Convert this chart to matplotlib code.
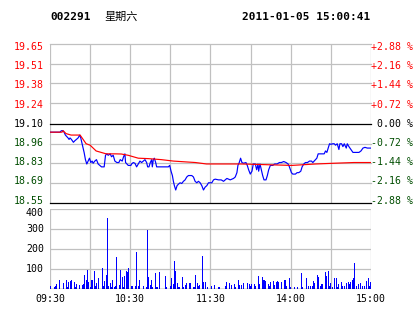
import numpy as np
import matplotlib
matplotlib.use('Agg')
import matplotlib.pyplot as plt

# header
code = '002291'
weekday = '星期六'
stamp = '2011-01-05 15:00:41'

prev_close = 19.10
price_ticks = [19.65, 19.51, 19.38, 19.24, 19.10, 18.96, 18.83, 18.69, 18.55]
pct_ticks = ['+2.88', '+2.16', '+1.44', '+0.72', '0.00', '-0.72', '-1.44', '-2.16', '-2.88']
time_labels = ['09:30', '10:30', '11:30', '14:00', '15:00']
vol_ticks = [100, 200, 300, 400]

# minutes since 09:30 (trading clock, 240 min total)
price_t = [0, 7.5, 8.5, 9.75, 10.5, 11.5, 12.5, 13.5, 14.25, 15, 16, 16.75, 17.5, 18.5, 19.75,
           21, 22.25, 23, 23.5, 24.5, 25.5, 26.5, 27.5, 28.5, 29.5, 30.5, 31.5, 32.25, 33.5,
           34.75, 36, 37.25, 38.5, 40.5, 41.5, 42.5, 43.5, 45, 46, 47.25, 48.5, 50, 51.5, 52.5,
           54, 55, 56, 56.5, 58.5, 60.5, 61, 62.25, 63.5, 64.75, 66, 67.25, 68.5, 69.75, 71,
           72.25, 73, 74, 75, 76, 76.5, 77.25, 78, 79, 79.75, 83.5, 88.5, 89.5, 90.5, 91.5,
           92.25, 93, 94, 95, 96, 97.25, 98.5, 99.75, 101, 102.25, 103.5, 104.75, 106, 107.25,
           108.5, 109.75, 111, 112.25, 113.5, 114.75, 116, 117.25, 118.5, 121, 122.25, 123.5,
           126, 128, 129.75, 131, 132.25, 134.75, 137.25, 138.5, 139.75, 140.5, 141.5, 142.5,
           143.5, 144.75, 146.5, 147.5, 148.5, 149.75, 151, 152, 153.5, 154.5, 155.5, 156, 157,
           158, 159, 160, 161.5, 162.5, 163.5, 164.75, 166.5, 168, 169.75, 171.5, 173, 174.75,
           176.5, 178, 179, 179.75, 180.5, 181.5, 183.5, 184.75, 186, 187.5, 188.5, 189.75, 191,
           192.5, 194, 195.5, 196.5, 197.5, 198.5, 199.5, 200.5, 202, 203.5, 205, 206, 207, 208,
           209, 210, 211.5, 212.5, 213.5, 214.75, 216, 216.75, 218, 219, 220, 221.5, 222.25,
           223.5, 225, 226.5, 228.5, 231, 232.5, 234, 235.5, 237.25, 240]
price_v = [19.04, 19.04, 19.05, 19.05, 19.04, 19.02, 19.01, 19.00, 18.99, 19.00, 18.99, 18.98,
           18.97, 18.98, 18.99, 19.00, 19.02, 19.00, 18.98, 18.94, 18.90, 18.85, 18.82, 18.84,
           18.86, 18.83, 18.84, 18.825, 18.84, 18.85, 18.82, 18.81, 18.80, 18.80, 18.88, 18.89,
           18.88, 18.89, 18.87, 18.88, 18.84, 18.83, 18.83, 18.85, 18.84, 18.87, 18.89, 18.83,
           18.81, 18.81, 18.82, 18.83, 18.825, 18.80, 18.82, 18.84, 18.83, 18.84, 18.85, 18.83,
           18.80, 18.80, 18.83, 18.85, 18.80, 18.85, 18.86, 18.83, 18.80, 18.80, 18.80, 18.81,
           18.77, 18.74, 18.70, 18.67, 18.64, 18.67, 18.68, 18.69, 18.685, 18.70, 18.71, 18.73,
           18.74, 18.74, 18.74, 18.73, 18.70, 18.69, 18.70, 18.69, 18.67, 18.64, 18.66, 18.67,
           18.69, 18.69, 18.71, 18.715, 18.71, 18.71, 18.70, 18.71, 18.72, 18.71, 18.72, 18.73,
           18.76, 18.81, 18.83, 18.86, 18.83, 18.825, 18.83, 18.81, 18.78, 18.75, 18.77, 18.82,
           18.82, 18.78, 18.82, 18.77, 18.82, 18.78, 18.74, 18.71, 18.71, 18.74, 18.78, 18.81,
           18.81, 18.82, 18.82, 18.83, 18.83, 18.837, 18.83, 18.82, 18.80, 18.78, 18.76, 18.75,
           18.75, 18.76, 18.76, 18.77, 18.80, 18.82, 18.83, 18.83, 18.84, 18.84, 18.83, 18.84,
           18.85, 18.86, 18.89, 18.89, 18.89, 18.89, 18.91, 18.90, 18.93, 18.96, 18.956, 18.96,
           18.96, 18.95, 18.96, 18.92, 18.96, 18.96, 18.94, 18.96, 18.93, 18.96, 18.94, 18.92,
           18.90, 18.90, 18.90, 18.91, 18.93, 18.935, 18.93, 18.93]

avg_t = [0, 9, 9.75, 12, 15.75, 22.5, 24.75, 27, 30, 32.25, 34.5, 38.25, 42, 48.75, 53.25,
         58.5, 66, 73.5, 83.25, 92.25, 108.75, 117, 143.25, 158.25, 180.75, 198.75, 212.25,
         227.25, 240]
avg_v = [19.04, 19.04, 19.05, 19.03, 19.02, 19.02, 18.99, 18.96, 18.95, 18.93, 18.91, 18.90,
         18.89, 18.89, 18.889, 18.88, 18.86, 18.857, 18.85, 18.84, 18.83, 18.82, 18.82, 18.816,
         18.81, 18.82, 18.825, 18.83, 18.83]

vol_t = [0, 3, 4, 5, 7, 10, 12, 13, 14, 15, 16, 18, 19, 20, 22, 24, 25, 26, 27, 28, 29, 30,
         31, 32, 33, 34, 35, 36, 39, 40, 41, 42, 43, 44, 45, 46, 47, 48, 49, 50, 52, 53, 54,
         55, 56, 57, 58, 59, 61, 62, 64, 65, 66, 67, 70, 72, 73, 74, 75, 76, 77, 79, 80, 82,
         86, 87, 90, 91, 92, 93, 94, 95, 96, 97, 99, 100, 101, 102, 104, 105, 107, 108, 109,
         110, 111, 112, 114, 115, 116, 118, 121, 123, 126, 127, 131, 132, 134, 136, 138, 139,
         141, 142, 143, 145, 148, 149, 150, 151, 153, 154, 156, 157, 159, 160, 161, 163, 164,
         165, 167, 168, 169, 170, 171, 173, 175, 176, 177, 179, 180, 183, 185, 188, 189, 192,
         193, 195, 196, 197, 198, 200, 201, 202, 203, 204, 206, 207, 208, 209, 210, 211, 213,
         214, 215, 216, 218, 219, 220, 222, 223, 224, 225, 226, 227, 228, 229, 231, 232, 234,
         235, 237, 238, 239, 240]
vol_v = [17, 12, 17, 25, 47, 30, 47, 12, 33, 42, 47, 37, 12, 25, 20, 22, 25, 72, 47, 97, 37, 10,
         47, 43, 92, 17, 30, 57, 107, 17, 38, 72, 353, 13, 30, 12, 47, 12, 17, 158, 22, 97, 62,
         12, 67, 92, 87, 103, 17, 17, 13, 187, 17, 47, 17, 12, 297, 62, 22, 47, 12, 80, 12, 87,
         67, 12, 17, 53, 25, 142, 92, 30, 12, 12, 62, 12, 22, 30, 30, 30, 12, 12, 72, 30, 17,
         22, 167, 33, 35, 12, 17, 20, 12, 12, 17, 37, 28, 20, 25, 12, 47, 20, 20, 28, 28, 25,
         17, 25, 25, 17, 67, 25, 62, 45, 42, 25, 17, 33, 42, 20, 33, 42, 33, 37, 45, 45, 17, 55,
         12, 12, 12, 78, 12, 55, 17, 17, 17, 42, 28, 72, 62, 17, 25, 25, 83, 67, 88, 17, 28, 12,
         55, 55, 12, 25, 37, 17, 17, 28, 37, 25, 37, 45, 55, 128, 17, 25, 28, 17, 17, 42, 55,
         17, 37]

RED = '#ff0000'
GREEN = '#004d00'
BLUE = '#0000ff'
GRID = '#c0c0c0'
MONO = 'DejaVu Sans Mono'
FS = 7.1
W, H = 414, 314


def px(x, y):
    return x / W, 1 - y / H


fig = plt.figure(figsize=(W / 100, H / 100), dpi=100)
fig.patch.set_facecolor('white')

ax = fig.add_axes([50 / W, 1 - 203 / H, 321 / W, 159 / H])
ax2 = fig.add_axes([50 / W, 1 - 289 / H, 321 / W, 80 / H])

lo, hi = price_ticks[-1], price_ticks[0]
for a in (ax, ax2):
    a.set_xlim(0, 240)
    a.set_xticks([])
    a.set_yticks([])
    for s in a.spines.values():
        s.set_visible(False)
    for m in range(0, 241, 30):
        a.axvline(m, color=GRID, lw=0.9, zorder=0)

ax.set_ylim(lo, hi)
for p in price_ticks:
    c = 'black' if p in (prev_close, lo) else GRID
    ax.axhline(p, color=c, lw=0.9, zorder=0.5, clip_on=False)

ax.plot(price_t, price_v, color=BLUE, lw=0.85, zorder=2)
ax.plot(avg_t, avg_v, color=RED, lw=0.85, zorder=3)

# left price labels and right percent labels
ys = np.linspace(1 - 3 / 159, 2.5 / 159, len(price_ticks))
for p, pct, y in zip(price_ticks, pct_ticks, ys):
    if p > prev_close:
        c = RED
    elif p < prev_close:
        c = GREEN
    else:
        c = 'black'
    ax.text(-6 / 321, y, '%.2f' % p, transform=ax.transAxes, ha='right', va='center',
            color=c, fontsize=FS, family=MONO)
    lab = pct if pct.startswith(('+', '-')) else ' ' + pct
    ax.text(1 + 0.5 / 321, y, lab + ' %', transform=ax.transAxes, ha='left', va='center',
            color=c, fontsize=FS, family=MONO)

ax2.set_ylim(0, 400)
for v in vol_ticks:
    ax2.axhline(v, color=GRID, lw=0.9, zorder=0)
    yy = v if v < 400 else 382
    ax2.text(-6 / 321, yy, str(v), transform=ax2.get_yaxis_transform(), ha='right',
             va='center', fontsize=FS, family=MONO)
ax2.axhline(0, color='black', lw=0.9, zorder=3)
ax2.bar(vol_t, vol_v, width=0.75, color=BLUE, linewidth=0, zorder=2, antialiased=False)

for i, lab in enumerate(time_labels):
    ax2.text(i * 60, -0.12, lab, transform=ax2.get_xaxis_transform(), ha='center',
             va='center', fontsize=FS, family=MONO)

fig.text(*px(50, 17), code, ha='left', va='center', fontsize=8, family=MONO, weight='bold')
fig.text(*px(104, 17), weekday, ha='left', va='center', fontsize=8,
         family=['Noto Sans CJK SC', 'DejaVu Sans'])
fig.text(*px(370, 17), stamp, ha='right', va='center', fontsize=8, family=MONO,
         weight='bold')

fig.savefig('out.png', dpi=100, facecolor='white')
